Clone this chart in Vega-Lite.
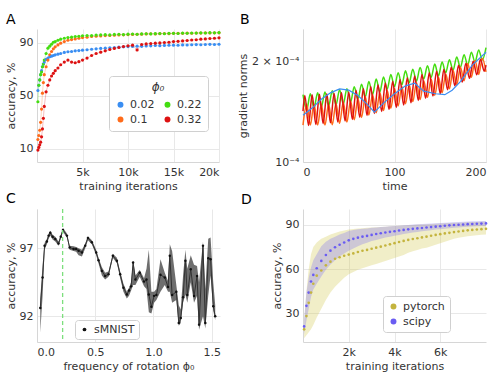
{
"$schema":"https://vega.github.io/schema/vega-lite/v6.json",
"padding":{"left":5,"top":13,"right":4,"bottom":2},
"background":"white",
"config":{
 "font":"DejaVu Sans",
 "view":{"stroke":null},
 "axis":{"labelFontSize":11,"titleFontSize":11,"labelColor":"#333","titleColor":"#333","titleFontWeight":"normal","gridColor":"#e8e8e8","domainColor":"#d6d6d6","ticks":false,"labelPadding":4,"titlePadding":3},
 "legend":{"orient":"none","fillColor":"white","strokeColor":"#d0d0d0","cornerRadius":3,"labelFontSize":11,"labelColor":"#333","titleColor":"#333"},
 "title":{"fontSize":14,"fontWeight":"normal","anchor":"start","frame":"group","color":"#000","offset":2}
},
"bounds":"flush",
"columns":2,
"spacing":{"row":47,"column":83},
"resolve":{"scale":{"color":"independent"},"legend":{"color":"independent"}},
"datasets":{
 "accA":[
  {"i":100,"b":54,"o":17,"g":45.5,"r":9},
  {"i":200,"b":58,"o":20,"g":58,"r":11},
  {"i":300,"b":62,"o":24,"g":62,"r":13},
  {"i":400,"b":66,"o":30,"g":66,"r":15},
  {"i":500,"b":69,"o":40,"g":68,"r":19},
  {"i":600,"b":72,"o":52,"g":72,"r":25},
  {"i":700,"b":74,"o":60,"g":74,"r":33},
  {"i":800,"b":75.5,"o":66,"g":77,"r":42},
  {"i":1000,"b":77.5,"o":72,"g":82,"r":53},
  {"i":1200,"b":78.5,"o":77,"g":86,"r":58},
  {"i":1400,"b":79.5,"o":81,"g":87.5,"r":62},
  {"i":1600,"b":80,"o":83.5,"g":89,"r":65},
  {"i":1800,"b":80.5,"o":85.5,"g":90.5,"r":67},
  {"i":2000,"b":81,"o":87,"g":91,"r":69},
  {"i":2300,"b":81.5,"o":88.5,"g":92,"r":71},
  {"i":2600,"b":82,"o":89.8,"g":92.8,"r":73.5},
  {"i":3000,"b":82.8,"o":91,"g":93.5,"r":75.5},
  {"i":3400,"b":83.3,"o":92,"g":94,"r":77},
  {"i":3800,"b":83.5,"o":92.5,"g":94.3,"r":75.5},
  {"i":4200,"b":84,"o":93,"g":94.8,"r":75},
  {"i":4600,"b":84.2,"o":93.5,"g":95,"r":75.8},
  {"i":5000,"b":84.5,"o":94,"g":95.4,"r":77},
  {"i":5500,"b":84.8,"o":94.3,"g":95.6,"r":78.5},
  {"i":6000,"b":85.2,"o":94.8,"g":95.5,"r":80.5},
  {"i":6500,"b":85.5,"o":95,"g":95.9,"r":82},
  {"i":7000,"b":85.8,"o":95.3,"g":96,"r":83},
  {"i":7500,"b":86,"o":95.5,"g":96.2,"r":84},
  {"i":8000,"b":86.3,"o":95.6,"g":96,"r":85},
  {"i":8500,"b":86.5,"o":95.8,"g":96.4,"r":85.8},
  {"i":9000,"b":86.8,"o":96,"g":96.5,"r":86.5},
  {"i":9500,"b":87,"o":96.1,"g":96.3,"r":87.3},
  {"i":10000,"b":87.2,"o":96.3,"g":96.6,"r":87.8},
  {"i":10500,"b":87.3,"o":96.4,"g":96.7,"r":88.3},
  {"i":11000,"b":87.5,"o":96.5,"g":96.5,"r":84.7},
  {"i":11500,"b":87.4,"o":96.6,"g":96.8,"r":88.8},
  {"i":12000,"b":87.7,"o":96.8,"g":96.9,"r":89.2},
  {"i":12500,"b":87.8,"o":96.9,"g":96.8,"r":89.5},
  {"i":13000,"b":88,"o":96.8,"g":97,"r":89.8},
  {"i":13500,"b":87.9,"o":97,"g":97.1,"r":90},
  {"i":14000,"b":88.1,"o":97.1,"g":96.9,"r":90.3},
  {"i":14500,"b":88.2,"o":97,"g":97.2,"r":90.5},
  {"i":15000,"b":88.3,"o":97.2,"g":97.2,"r":91},
  {"i":15500,"b":88.2,"o":97.3,"g":97.1,"r":91.2},
  {"i":16000,"b":88.5,"o":97.2,"g":97.4,"r":91.5},
  {"i":16500,"b":88.4,"o":97.4,"g":97.3,"r":91.8},
  {"i":17000,"b":88.6,"o":97.3,"g":97.5,"r":92.2},
  {"i":17500,"b":88.7,"o":97.5,"g":97.4,"r":92.4},
  {"i":18000,"b":88.6,"o":97.4,"g":97.6,"r":92.8},
  {"i":18500,"b":88.8,"o":97.6,"g":97.5,"r":93},
  {"i":19000,"b":88.9,"o":97.5,"g":97.7,"r":93.3},
  {"i":19500,"b":88.8,"o":97.6,"g":97.6,"r":93.5},
  {"i":20000,"b":89,"o":97.6,"g":97.8,"r":93.8}
 ],
 "grad":[
  {"s":"g","t":0,"v":1.59e-4},{"s":"g","t":4,"v":1.43e-4},{"s":"g","t":8,"v":1.60e-4},{"s":"g","t":12,"v":1.45e-4},
  {"s":"g","t":16,"v":1.61e-4},{"s":"g","t":20,"v":1.46e-4},{"s":"g","t":24,"v":1.62e-4},{"s":"g","t":28,"v":1.47e-4},
  {"s":"g","t":32,"v":1.635e-4},{"s":"g","t":36,"v":1.48e-4},{"s":"g","t":40,"v":1.646e-4},{"s":"g","t":44,"v":1.49e-4},
  {"s":"g","t":48,"v":1.657e-4},{"s":"g","t":52,"v":1.51e-4},{"s":"g","t":56,"v":1.68e-4},{"s":"g","t":60,"v":1.54e-4},
  {"s":"g","t":64,"v":1.71e-4},{"s":"g","t":68,"v":1.565e-4},{"s":"g","t":72,"v":1.74e-4},{"s":"g","t":76,"v":1.59e-4},
  {"s":"g","t":80,"v":1.77e-4},{"s":"g","t":84,"v":1.62e-4},{"s":"g","t":88,"v":1.797e-4},{"s":"g","t":92,"v":1.65e-4},
  {"s":"g","t":96,"v":1.826e-4},{"s":"g","t":100,"v":1.68e-4},{"s":"g","t":104,"v":1.85e-4},{"s":"g","t":108,"v":1.70e-4},
  {"s":"g","t":112,"v":1.874e-4},{"s":"g","t":116,"v":1.725e-4},{"s":"g","t":120,"v":1.896e-4},{"s":"g","t":124,"v":1.745e-4},
  {"s":"g","t":128,"v":1.918e-4},{"s":"g","t":132,"v":1.77e-4},{"s":"g","t":136,"v":1.94e-4},{"s":"g","t":140,"v":1.79e-4},
  {"s":"g","t":144,"v":1.963e-4},{"s":"g","t":148,"v":1.81e-4},{"s":"g","t":152,"v":1.99e-4},{"s":"g","t":156,"v":1.85e-4},
  {"s":"g","t":160,"v":2.024e-4},{"s":"g","t":164,"v":1.88e-4},{"s":"g","t":168,"v":2.06e-4},{"s":"g","t":172,"v":1.92e-4},
  {"s":"g","t":176,"v":2.094e-4},{"s":"g","t":180,"v":1.95e-4},{"s":"g","t":184,"v":2.13e-4},{"s":"g","t":188,"v":1.99e-4},
  {"s":"g","t":192,"v":2.165e-4},{"s":"g","t":196,"v":2.02e-4},{"s":"g","t":200,"v":2.2e-4},
  {"s":"o","t":0,"v":1.29e-4},{"s":"o","t":4,"v":1.49e-4},{"s":"o","t":8,"v":1.29e-4},{"s":"o","t":12,"v":1.49e-4},
  {"s":"o","t":16,"v":1.29e-4},{"s":"o","t":20,"v":1.49e-4},{"s":"o","t":24,"v":1.29e-4},{"s":"o","t":28,"v":1.49e-4},
  {"s":"o","t":32,"v":1.293e-4},{"s":"o","t":36,"v":1.499e-4},{"s":"o","t":40,"v":1.305e-4},{"s":"o","t":44,"v":1.511e-4},
  {"s":"o","t":48,"v":1.317e-4},{"s":"o","t":52,"v":1.526e-4},{"s":"o","t":56,"v":1.337e-4},{"s":"o","t":60,"v":1.548e-4},
  {"s":"o","t":64,"v":1.359e-4},{"s":"o","t":68,"v":1.57e-4},{"s":"o","t":72,"v":1.382e-4},{"s":"o","t":76,"v":1.593e-4},
  {"s":"o","t":80,"v":1.404e-4},{"s":"o","t":84,"v":1.615e-4},{"s":"o","t":88,"v":1.426e-4},{"s":"o","t":92,"v":1.638e-4},
  {"s":"o","t":96,"v":1.449e-4},{"s":"o","t":100,"v":1.66e-4},{"s":"o","t":104,"v":1.471e-4},{"s":"o","t":108,"v":1.682e-4},
  {"s":"o","t":112,"v":1.494e-4},{"s":"o","t":116,"v":1.705e-4},{"s":"o","t":120,"v":1.516e-4},{"s":"o","t":124,"v":1.727e-4},
  {"s":"o","t":128,"v":1.538e-4},{"s":"o","t":132,"v":1.75e-4},{"s":"o","t":136,"v":1.561e-4},{"s":"o","t":140,"v":1.772e-4},
  {"s":"o","t":144,"v":1.583e-4},{"s":"o","t":148,"v":1.794e-4},{"s":"o","t":152,"v":1.611e-4},{"s":"o","t":156,"v":1.834e-4},
  {"s":"o","t":160,"v":1.657e-4},{"s":"o","t":164,"v":1.88e-4},{"s":"o","t":168,"v":1.703e-4},{"s":"o","t":172,"v":1.925e-4},
  {"s":"o","t":176,"v":1.749e-4},{"s":"o","t":180,"v":1.971e-4},{"s":"o","t":184,"v":1.794e-4},{"s":"o","t":188,"v":2.012e-4},
  {"s":"o","t":192,"v":1.828e-4},{"s":"o","t":196,"v":2.044e-4},{"s":"o","t":200,"v":1.86e-4},
  {"s":"r","t":0,"v":1.42e-4},{"s":"r","t":2,"v":1.58e-4},{"s":"r","t":6,"v":1.286e-4},{"s":"r","t":10,"v":1.588e-4},
  {"s":"r","t":14,"v":1.294e-4},{"s":"r","t":18,"v":1.594e-4},{"s":"r","t":22,"v":1.302e-4},{"s":"r","t":26,"v":1.60e-4},
  {"s":"r","t":30,"v":1.31e-4},{"s":"r","t":34,"v":1.607e-4},{"s":"r","t":38,"v":1.318e-4},{"s":"r","t":42,"v":1.614e-4},
  {"s":"r","t":46,"v":1.326e-4},{"s":"r","t":50,"v":1.62e-4},{"s":"r","t":54,"v":1.34e-4},{"s":"r","t":58,"v":1.64e-4},
  {"s":"r","t":62,"v":1.36e-4},{"s":"r","t":66,"v":1.66e-4},{"s":"r","t":70,"v":1.378e-4},{"s":"r","t":74,"v":1.682e-4},
  {"s":"r","t":78,"v":1.397e-4},{"s":"r","t":82,"v":1.703e-4},{"s":"r","t":86,"v":1.416e-4},{"s":"r","t":90,"v":1.724e-4},
  {"s":"r","t":94,"v":1.436e-4},{"s":"r","t":98,"v":1.745e-4},{"s":"r","t":102,"v":1.456e-4},{"s":"r","t":106,"v":1.766e-4},
  {"s":"r","t":110,"v":1.48e-4},{"s":"r","t":114,"v":1.786e-4},{"s":"r","t":118,"v":1.504e-4},{"s":"r","t":122,"v":1.807e-4},
  {"s":"r","t":126,"v":1.528e-4},{"s":"r","t":130,"v":1.828e-4},{"s":"r","t":134,"v":1.552e-4},{"s":"r","t":138,"v":1.849e-4},
  {"s":"r","t":142,"v":1.576e-4},{"s":"r","t":146,"v":1.87e-4},{"s":"r","t":150,"v":1.60e-4},{"s":"r","t":154,"v":1.894e-4},
  {"s":"r","t":158,"v":1.645e-4},{"s":"r","t":162,"v":1.92e-4},{"s":"r","t":166,"v":1.69e-4},{"s":"r","t":170,"v":1.948e-4},
  {"s":"r","t":174,"v":1.734e-4},{"s":"r","t":178,"v":1.975e-4},{"s":"r","t":182,"v":1.78e-4},{"s":"r","t":186,"v":2.002e-4},
  {"s":"r","t":190,"v":1.824e-4},{"s":"r","t":194,"v":2.03e-4},{"s":"r","t":198,"v":1.87e-4},{"s":"r","t":200,"v":1.95e-4},
  {"s":"b","t":0,"v":1.38e-4},{"s":"b","t":10,"v":1.45e-4},{"s":"b","t":20,"v":1.54e-4},{"s":"b","t":30,"v":1.61e-4},
  {"s":"b","t":40,"v":1.655e-4},{"s":"b","t":50,"v":1.64e-4},{"s":"b","t":60,"v":1.58e-4},{"s":"b","t":70,"v":1.49e-4},
  {"s":"b","t":78,"v":1.41e-4},{"s":"b","t":88,"v":1.50e-4},{"s":"b","t":100,"v":1.60e-4},{"s":"b","t":112,"v":1.69e-4},
  {"s":"b","t":122,"v":1.72e-4},{"s":"b","t":132,"v":1.63e-4},{"s":"b","t":145,"v":1.60e-4},{"s":"b","t":155,"v":1.59e-4},
  {"s":"b","t":163,"v":1.64e-4},{"s":"b","t":172,"v":1.74e-4},{"s":"b","t":185,"v":1.95e-4},{"s":"b","t":200,"v":2.13e-4}
 ],
 "sm":[
  {"f":0.028,"a":92.6,"lo":90.8,"hi":93.3},{"f":0.048,"a":94.85,"lo":93.5,"hi":95.8},{"f":0.065,"a":97.2,"lo":96.9,"hi":97.4},
  {"f":0.085,"a":97.5,"lo":97.3,"hi":97.7},{"f":0.1,"a":97.94,"lo":97.7,"hi":98.1},{"f":0.114,"a":98.15,"lo":97.95,"hi":98.3},
  {"f":0.134,"a":97.85,"lo":97.65,"hi":98.0},{"f":0.157,"a":97.69,"lo":97.5,"hi":97.85},{"f":0.185,"a":97.35,"lo":97.2,"hi":97.5},
  {"f":0.204,"a":97.85,"lo":97.7,"hi":98.0},{"f":0.223,"a":98.36,"lo":98.2,"hi":98.5},{"f":0.257,"a":97.94,"lo":97.8,"hi":98.1},
  {"f":0.28,"a":97.07,"lo":96.9,"hi":97.2},{"f":0.314,"a":96.95,"lo":96.8,"hi":97.15},{"f":0.336,"a":96.95,"lo":96.75,"hi":97.1},
  {"f":0.357,"a":96.83,"lo":96.5,"hi":97.0},{"f":0.386,"a":96.7,"lo":96.4,"hi":96.9},{"f":0.414,"a":97.2,"lo":97.0,"hi":97.35},
  {"f":0.437,"a":97.77,"lo":97.6,"hi":97.9},{"f":0.471,"a":97.45,"lo":97.3,"hi":97.6},{"f":0.508,"a":96.7,"lo":96.5,"hi":96.9},
  {"f":0.528,"a":96.13,"lo":95.9,"hi":96.3},{"f":0.557,"a":95.34,"lo":95.0,"hi":95.6},{"f":0.585,"a":94.97,"lo":94.7,"hi":95.2},
  {"f":0.614,"a":95.09,"lo":94.9,"hi":95.3},{"f":0.651,"a":96.45,"lo":96.3,"hi":96.6},{"f":0.686,"a":96.09,"lo":95.9,"hi":96.3},
  {"f":0.714,"a":95.09,"lo":94.8,"hi":95.3},{"f":0.742,"a":94.1,"lo":93.8,"hi":94.4},{"f":0.771,"a":93.6,"lo":93.3,"hi":93.8},
  {"f":0.79,"a":93.9,"lo":93.5,"hi":94.1},{"f":0.808,"a":94.2,"lo":93.9,"hi":94.5},{"f":0.825,"a":95.96,"lo":94.3,"hi":96.1},
  {"f":0.845,"a":94.7,"lo":94.3,"hi":95.0},{"f":0.882,"a":95.2,"lo":94.9,"hi":95.4},{"f":0.919,"a":94.55,"lo":94.2,"hi":94.8},
  {"f":0.94,"a":94.7,"lo":94.0,"hi":95.5},{"f":0.96,"a":93.6,"lo":92.3,"hi":96.9},{"f":0.982,"a":92.7,"lo":92.2,"hi":93.8},
  {"f":1.005,"a":93.5,"lo":93.0,"hi":93.8},{"f":1.025,"a":93.56,"lo":93.2,"hi":94.0},{"f":1.06,"a":95.05,"lo":93.8,"hi":96.2},
  {"f":1.097,"a":94.85,"lo":94.3,"hi":95.2},{"f":1.125,"a":94.15,"lo":93.8,"hi":94.6},{"f":1.14,"a":96.45,"lo":93.8,"hi":97.3},
  {"f":1.16,"a":93.56,"lo":93.0,"hi":96.8},{"f":1.196,"a":93.8,"lo":93.2,"hi":94.3},{"f":1.217,"a":91.5,"lo":91.3,"hi":92.8},
  {"f":1.234,"a":91.87,"lo":91.5,"hi":92.5},{"f":1.254,"a":93.4,"lo":93.0,"hi":95.0},{"f":1.274,"a":96.09,"lo":93.6,"hi":96.9},
  {"f":1.29,"a":93.56,"lo":93.0,"hi":95.5},{"f":1.32,"a":95.46,"lo":94.5,"hi":96.5},{"f":1.348,"a":93.49,"lo":93.0,"hi":95.8},
  {"f":1.374,"a":94.97,"lo":93.5,"hi":95.7},{"f":1.391,"a":91.38,"lo":91.0,"hi":94.5},{"f":1.425,"a":97.2,"lo":92.0,"hi":97.5},
  {"f":1.445,"a":91.5,"lo":91.1,"hi":94.0},{"f":1.47,"a":96.28,"lo":93.5,"hi":97.7},{"f":1.49,"a":96.2,"lo":95.0,"hi":97.8},
  {"f":1.513,"a":92.74,"lo":92.4,"hi":94.5},{"f":1.53,"a":92.0,"lo":91.7,"hi":92.8}
 ],
 "opt":[
  {"i":50,"py":19,"pl":13,"ph":25,"sc":21,"sl":15.7,"sh":26},
  {"i":150,"py":28,"pl":15,"ph":45,"sc":35,"sl":25,"sh":44},
  {"i":250,"py":37,"pl":17,"ph":60,"sc":44,"sl":33,"sh":54},
  {"i":350,"py":44,"pl":19,"ph":70,"sc":51.5,"sl":41,"sh":61},
  {"i":450,"py":50,"pl":22,"ph":75,"sc":56,"sl":46,"sh":66},
  {"i":600,"py":55.5,"pl":27,"ph":78,"sc":60.5,"sl":50,"sh":70},
  {"i":800,"py":59,"pl":33,"ph":80.5,"sc":65.5,"sl":55,"sh":75.5},
  {"i":1000,"py":62.5,"pl":39,"ph":82,"sc":69.5,"sl":59.5,"sh":78.5},
  {"i":1200,"py":65,"pl":44,"ph":83.5,"sc":72.5,"sl":63,"sh":80.5},
  {"i":1400,"py":67,"pl":48,"ph":84.5,"sc":74.8,"sl":66,"sh":82},
  {"i":1600,"py":68,"pl":51,"ph":85.5,"sc":76.5,"sl":68.5,"sh":83.5},
  {"i":1800,"py":69,"pl":54,"ph":86.2,"sc":78,"sl":70.5,"sh":84.5},
  {"i":2000,"py":69.8,"pl":56.5,"ph":86.8,"sc":79.5,"sl":72.5,"sh":85.8},
  {"i":2200,"py":70.6,"pl":58,"ph":87.2,"sc":80.5,"sl":74,"sh":86.5},
  {"i":2400,"py":71.6,"pl":59.5,"ph":87.5,"sc":81.3,"sl":75.5,"sh":87},
  {"i":2600,"py":72.4,"pl":60.5,"ph":87.8,"sc":82,"sl":76.8,"sh":87.3},
  {"i":2800,"py":73,"pl":61.5,"ph":88,"sc":82.5,"sl":77.8,"sh":87.6},
  {"i":3000,"py":73.8,"pl":62.5,"ph":88.2,"sc":83.2,"sl":79,"sh":88},
  {"i":3200,"py":74.5,"pl":63.5,"ph":88.4,"sc":83.8,"sl":79.8,"sh":88.2},
  {"i":3400,"py":75.2,"pl":64.5,"ph":88.6,"sc":84.3,"sl":80.6,"sh":88.5},
  {"i":3600,"py":76,"pl":65.5,"ph":88.8,"sc":84.8,"sl":81.4,"sh":88.7},
  {"i":3800,"py":76.8,"pl":66.5,"ph":89,"sc":85.3,"sl":82,"sh":89},
  {"i":4000,"py":77.6,"pl":67.5,"ph":89.2,"sc":85.7,"sl":82.6,"sh":89.2},
  {"i":4200,"py":78.4,"pl":68.5,"ph":89.4,"sc":86.2,"sl":83.2,"sh":89.5},
  {"i":4400,"py":79.1,"pl":69.5,"ph":89.6,"sc":86.6,"sl":83.8,"sh":89.7},
  {"i":4600,"py":79.8,"pl":71,"ph":89.8,"sc":87,"sl":84.3,"sh":90},
  {"i":4800,"py":80.4,"pl":72,"ph":90,"sc":87.3,"sl":84.8,"sh":90.2},
  {"i":5000,"py":80.9,"pl":73,"ph":90.2,"sc":87.6,"sl":85.2,"sh":90.4},
  {"i":5200,"py":81.5,"pl":74,"ph":90.3,"sc":87.9,"sl":85.6,"sh":90.6},
  {"i":5400,"py":82,"pl":74.5,"ph":90.5,"sc":88.2,"sl":86,"sh":90.8},
  {"i":5600,"py":82.6,"pl":75.5,"ph":90.6,"sc":88.5,"sl":86.4,"sh":91},
  {"i":5800,"py":83.2,"pl":76.5,"ph":90.8,"sc":88.8,"sl":86.8,"sh":91.1},
  {"i":6000,"py":83.7,"pl":77.5,"ph":91,"sc":89.1,"sl":87.1,"sh":91.3},
  {"i":6200,"py":84.2,"pl":78.5,"ph":91.1,"sc":89.4,"sl":87.4,"sh":91.5},
  {"i":6400,"py":84.6,"pl":79.5,"ph":91.2,"sc":89.7,"sl":87.7,"sh":91.7},
  {"i":6600,"py":85.1,"pl":80.5,"ph":91.4,"sc":89.9,"sl":88,"sh":91.8},
  {"i":6800,"py":85.5,"pl":81.2,"ph":91.5,"sc":90.1,"sl":88.3,"sh":92},
  {"i":7000,"py":85.9,"pl":81.8,"ph":91.6,"sc":90.3,"sl":88.5,"sh":92.1},
  {"i":7200,"py":86.3,"pl":82.3,"ph":91.8,"sc":90.5,"sl":88.7,"sh":92.3},
  {"i":7400,"py":86.6,"pl":82.7,"ph":91.9,"sc":90.6,"sl":88.9,"sh":92.4},
  {"i":7600,"py":86.9,"pl":83,"ph":92,"sc":90.8,"sl":89.1,"sh":92.5},
  {"i":7800,"py":87.1,"pl":83.3,"ph":92.1,"sc":90.9,"sl":89.2,"sh":92.6},
  {"i":8000,"py":87.3,"pl":83.5,"ph":92.2,"sc":91,"sl":89.3,"sh":92.7}
 ]
},
"concat":[
 {
  "width":182,"height":133,
  "title":{"text":"A","dx":-31},
  "data":{"name":"accA"},
  "transform":[{"fold":["b","o","g","r"],"as":["k","a"]}],
  "encoding":{
   "x":{"field":"i","type":"quantitative","scale":{"domain":[0,20000],"nice":false},"axis":{"values":[5000,10000,15000,20000],"labelExpr":"datum.value/1000 + 'k'","title":"training iterations"}},
   "y":{"field":"a","type":"quantitative","scale":{"domain":[0,100.5],"nice":false},"axis":{"values":[10,50,90],"title":"accuracy, %"}}
  },
  "layer":[
   {"transform":[{"filter":"datum.k=='b'"}],"mark":{"type":"line","strokeWidth":0.7,"opacity":0.4,"color":"#3a8ef2"}},
   {"transform":[{"filter":"datum.k=='o'"}],"mark":{"type":"line","strokeWidth":0.7,"opacity":0.4,"color":"#ff6b1a"}},
   {"transform":[{"filter":"datum.k=='g'"}],"mark":{"type":"line","strokeWidth":0.7,"opacity":0.4,"color":"#44dd11"}},
   {"transform":[{"filter":"datum.k=='r'"}],"mark":{"type":"line","strokeWidth":0.7,"opacity":0.4,"color":"#dd1111"}},
   {"mark":{"type":"circle","size":10,"opacity":1},
    "encoding":{"color":{"field":"k","type":"nominal","scale":{"domain":["b","o","g","r"],"range":["#3a8ef2","#ff6b1a","#44dd11","#dd1111"]},
     "legend":{"title":"ϕ₀","columns":2,"legendX":72,"legendY":47,"titleAnchor":"middle","titleFontStyle":"italic","titleFontSize":12,"titleFontWeight":"normal","symbolType":"circle","symbolSize":35,"labelExpr":"datum.label=='b'?'0.02':datum.label=='g'?'0.22':datum.label=='o'?'0.1':'0.32'","padding":6,"columnPadding":7,"rowPadding":3}}}}
  ]
 },
 {
  "width":183,"height":133,
  "title":{"text":"B","dx":-63},
  "data":{"name":"grad"},
  "encoding":{
   "x":{"field":"t","type":"quantitative","scale":{"domain":[0,200],"nice":false},"axis":{"values":[0,100,200],"title":"time"}},
   "y":{"field":"v","type":"quantitative","scale":{"type":"log","domain":[0.0001,0.00025],"nice":false},"axis":{"values":[0.0001,0.0002],"labelExpr":"datum.value < 0.00015 ? '10⁻⁴' : '2 × 10⁻⁴'","title":"gradient norms"}}
  },
  "layer":[
   {"transform":[{"filter":"datum.s=='g'"}],"mark":{"type":"line","color":"#44dd11","strokeWidth":1.5,"interpolate":"monotone"}},
   {"transform":[{"filter":"datum.s=='o'"}],"mark":{"type":"line","color":"#ff6b1a","strokeWidth":1.5,"interpolate":"monotone"}},
   {"transform":[{"filter":"datum.s=='r'"}],"mark":{"type":"line","color":"#dd1111","strokeWidth":1.5,"interpolate":"monotone"}},
   {"transform":[{"filter":"datum.s=='b'"}],"mark":{"type":"line","color":"#3a8ef2","strokeWidth":1.2}}
  ]
 },
 {
  "width":183,"height":133,
  "title":{"text":"C","dx":-31},
  "layer":[
   {"data":{"name":"sm"},"mark":{"type":"area","color":"#4a4a4a","opacity":0.8},
    "encoding":{
     "x":{"field":"f","type":"quantitative","scale":{"domain":[0,1.571],"nice":false},"axis":{"values":[0,0.5,1,1.5],"format":".1f","title":"frequency of rotation ϕ₀"}},
     "y":{"field":"lo","type":"quantitative","scale":{"domain":[90.1,99.9],"nice":false},"axis":{"values":[92,97],"title":"accuracy, %"}},
     "y2":{"field":"hi"}}},
   {"data":{"name":"sm"},"mark":{"type":"line","color":"#333333","strokeWidth":1},
    "encoding":{"x":{"field":"f","type":"quantitative"},"y":{"field":"a","type":"quantitative"}}},
   {"data":{"name":"sm"},"mark":{"type":"circle","size":6,"opacity":1},
    "encoding":{"x":{"field":"f","type":"quantitative"},"y":{"field":"a","type":"quantitative"},
     "color":{"datum":"sMNIST","type":"nominal","scale":{"range":["#111111"]},"legend":{"title":null,"legendX":38,"legendY":111,"symbolSize":14,"padding":4}}}},
   {"data":{"values":[{"f":0.22}]},"mark":{"type":"rule","color":"#7ddf7d","strokeDash":[4,3],"strokeWidth":1.3},
    "encoding":{"x":{"field":"f","type":"quantitative"}}}
  ]
 },
 {
  "width":183,"height":133,
  "title":{"text":"D","dx":-62},
  "data":{"name":"opt"},
  "layer":[
   {"mark":{"type":"area","color":"#cfc64a","opacity":0.3},
    "encoding":{
     "x":{"field":"i","type":"quantitative","scale":{"domain":[0,8000],"nice":false},"axis":{"values":[2000,4000,6000],"labelExpr":"datum.value/1000 + 'k'","title":"training iterations"}},
     "y":{"field":"pl","type":"quantitative","scale":{"domain":[10.4,100.8],"nice":false},"axis":{"values":[30,60,90],"title":"accuracy, %"}},
     "y2":{"field":"ph"}}},
   {"mark":{"type":"area","color":"#7a6cf5","opacity":0.3},
    "encoding":{"x":{"field":"i","type":"quantitative"},"y":{"field":"sl","type":"quantitative"},"y2":{"field":"sh"}}},
   {"transform":[{"fold":["py","sc"],"as":["k","a"]}],"mark":{"type":"circle","size":7,"opacity":1},
    "encoding":{"x":{"field":"i","type":"quantitative"},"y":{"field":"a","type":"quantitative"},
     "color":{"field":"k","type":"nominal","scale":{"domain":["py","sc"],"range":["#c4b43e","#6a5cf2"]},
      "legend":{"title":null,"labelExpr":"datum.label=='py'?'pytorch':'scipy'","legendX":80,"legendY":87,"symbolSize":35,"padding":5,"rowPadding":3}}}}
  ]
 }
]
}
